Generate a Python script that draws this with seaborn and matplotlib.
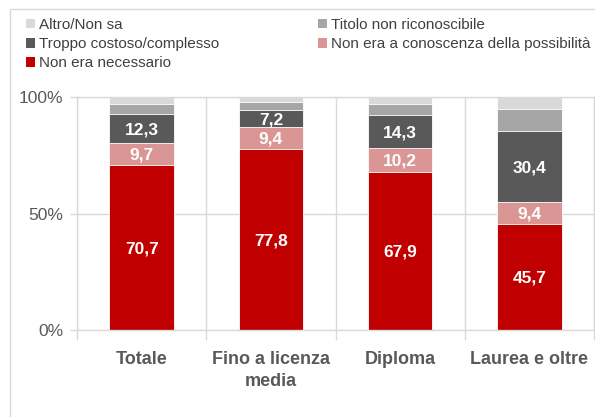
import numpy as np
import pandas as pd
import matplotlib
matplotlib.use("Agg")
import matplotlib.pyplot as plt
import seaborn as sns
from matplotlib.patches import Patch
from matplotlib.lines import Line2D

# data (percent)
categories = ["Totale", "Fino a licenza\nmedia", "Diploma", "Laurea e oltre"]
non_necessario = [70.7, 77.8, 67.9, 45.7]
non_conoscenza = [9.7, 9.4, 10.2, 9.4]
troppo_costoso = [12.3, 7.2, 14.3, 30.4]
titolo_non_ric = [4.2, 3.4, 4.5, 9.3]
altro_non_sa = [3.1, 2.2, 3.1, 5.2]

series_names = [
    "Non era necessario",
    "Non era a conoscenza della possibilità",
    "Troppo costoso/complesso",
    "Titolo non riconoscibile",
    "Altro/Non sa",
]
series_values = [non_necessario, non_conoscenza, troppo_costoso, titolo_non_ric, altro_non_sa]
colors = ["#C00000", "#DA9694", "#595959", "#A6A6A6", "#D9D9D9"]
labelled = [True, True, True, False, False]

sns.set_theme(style="white")
plt.rcParams["font.family"] = ["Liberation Sans", "DejaVu Sans"]

df = pd.DataFrame({name: vals for name, vals in zip(series_names, series_values)})
df["categoria"] = categories
cum = df[series_names].cumsum(axis=1)
bottoms = cum - df[series_names]

fig = plt.figure(figsize=(5.95, 4.17), dpi=100)
ax = fig.add_axes([77 / 595, 1 - 330 / 417, 517 / 595, 233 / 417])

# stacked bars: draw cumulative heights from the top layer down
for name, col in reversed(list(zip(series_names, colors))):
    sns.barplot(x=df["categoria"], y=cum[name], color=col, width=0.5,
                saturation=1, edgecolor="white", linewidth=0.6, ax=ax)

for name, show in zip(series_names, labelled):
    if not show:
        continue
    for i in range(len(categories)):
        v = df[name][i]
        ax.text(i, bottoms[name][i] + v / 2, f"{v:.1f}".replace(".", ","),
                ha="center", va="center_baseline", color="white", fontsize=12.5,
                fontweight="bold")

ax.set_ylim(0, 100)
ax.set_xlim(-0.5, len(categories) - 0.5)
ax.set_yticks([0, 50, 100])
ax.set_yticklabels(["0%", "50%", "100%"])
ax.set_xticks(range(len(categories)))
ax.set_xticklabels(categories, fontweight="bold", linespacing=1.4)
ax.set_xlabel("")
ax.set_ylabel("")

ax.tick_params(axis="y", left=True, length=5, width=1, color="#D9D9D9",
               labelsize=12.5, labelcolor="#595959", pad=5)
ax.tick_params(axis="x", bottom=False, labelsize=13, labelcolor="#595959", pad=9)

# category separators and horizontal gridlines
ax.set_xticks(np.arange(len(categories) + 1) - 0.5, minor=True)
ax.tick_params(axis="x", which="minor", bottom=True, length=7, width=1, color="#D9D9D9")
ax.grid(axis="x", which="minor", color="#D9D9D9", linewidth=1)
ax.grid(axis="y", which="major", color="#D9D9D9", linewidth=1)
ax.set_axisbelow(True)

for sp in ax.spines.values():
    sp.set_color("#D9D9D9")
    sp.set_linewidth(1)

# legend, filled column-wise in two columns
order = [4, 2, 0, 3, 1]
handles = [Patch(facecolor=colors[k], edgecolor="none") for k in order]
labels = [series_names[k] for k in order]
fig.legend(handles, labels, loc="upper left", bbox_to_anchor=(26 / 595, 1 - 18 / 417),
           ncol=2, frameon=False, fontsize=11, handlelength=0.6, handleheight=0.6,
           handletextpad=0.27, columnspacing=6.45, labelspacing=0.33, borderaxespad=0,
           borderpad=0, labelcolor="#404040")

# outer frame of the original picture
fig.add_artist(Line2D([10 / 595, 10 / 595], [0, 1 - 9 / 417], color="#D9D9D9",
                      linewidth=1, transform=fig.transFigure))
fig.add_artist(Line2D([10 / 595, 1], [1 - 9 / 417, 1 - 9 / 417], color="#D9D9D9",
                      linewidth=1, transform=fig.transFigure))

fig.savefig("out.png", dpi=100)
